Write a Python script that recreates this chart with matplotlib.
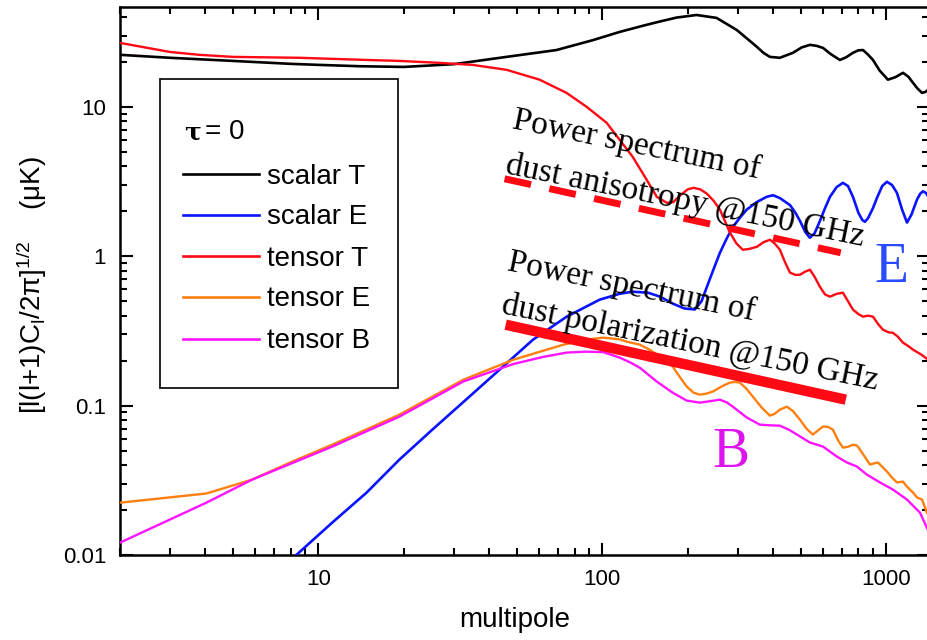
import matplotlib
matplotlib.use('Agg')
import matplotlib.pyplot as plt
from matplotlib.lines import Line2D
from matplotlib.patches import Rectangle
from matplotlib.ticker import LogLocator, FuncFormatter, NullFormatter

plt.rcParams['font.family'] = ['Liberation Sans', 'DejaVu Sans']
plt.rcParams['mathtext.fontset'] = 'custom'
plt.rcParams['mathtext.rm'] = 'Liberation Sans'
plt.rcParams['mathtext.it'] = 'Liberation Sans:italic'
plt.rcParams['mathtext.bf'] = 'Liberation Sans:bold'

# ---------------- data ----------------
ell_scalar_T = [2, 3, 5, 8, 10, 14, 20, 30, 46, 69, 93, 115, 140, 160, 183, 215, 253,
                298, 325, 351, 370, 390, 423, 470, 505, 540, 570, 600, 640, 688, 725,
                765, 800, 830, 860, 900, 950, 1016, 1080, 1148, 1200, 1245, 1290, 1340,
                1380, 1418]
scalar_T = [22.3, 21.3, 20.3, 19.4, 19.1, 18.7, 18.5, 19.3, 21.6, 24.0, 28.0, 31.7, 35.0,
            37.3, 39.6, 41.2, 39.4, 32.7, 28.5, 25.2, 23.0, 21.6, 21.3, 23.0, 25.0, 26.0,
            25.6, 24.8, 22.5, 20.6, 21.5, 23.0, 23.9, 24.0, 22.6, 20.6, 17.5, 15.2, 15.8,
            16.9, 15.9, 14.5, 13.3, 12.4, 12.6, 13.2]

ell_scalar_E = [7, 8.36, 11.2, 14.8, 19.3, 25.2, 33.2, 43.5, 57, 75, 98, 115, 128, 145,
                160, 178, 195, 212, 224, 234, 247, 260, 275, 289, 305, 323, 350, 380, 400,
                423, 459, 480, 498, 520, 539, 560, 585, 610, 635, 670, 705, 735, 765, 800,
                825, 843, 865, 900, 929, 970, 1008, 1050, 1093, 1140, 1186, 1230, 1286,
                1320, 1351, 1385, 1418]
scalar_E = [0.0073, 0.0100, 0.0165, 0.0262, 0.0435, 0.069, 0.110, 0.174, 0.276, 0.394,
            0.512, 0.56, 0.579, 0.57, 0.536, 0.48, 0.447, 0.44, 0.50, 0.625, 0.82, 1.055,
            1.32, 1.57, 1.80, 2.05, 2.30, 2.50, 2.56, 2.45, 2.20, 1.95, 1.72, 1.45, 1.33,
            1.42, 1.72, 2.10, 2.50, 2.90, 3.10, 2.95, 2.50, 1.95, 1.75, 1.70, 1.80, 2.10,
            2.45, 2.95, 3.15, 3.00, 2.66, 2.05, 1.68, 1.90, 2.39, 2.62, 2.72, 2.65, 2.45]

ell_tensor_T = [2, 3, 3.8, 5, 8.6, 14.8, 19.3, 26.7, 34.9, 46, 60.2, 74.9, 88.2, 103.7,
                115.3, 128.1, 143.5, 155.7, 168.8, 178, 188, 200, 210, 222, 234, 247, 260,
                282, 297, 313, 330, 351, 370, 390, 405, 423, 440, 459, 480, 498, 520, 540,
                560, 585, 610, 635, 670, 705, 735, 765, 800, 830, 865, 900, 940, 976,
                1020, 1058, 1100, 1148, 1200, 1245, 1330, 1418]
tensor_T = [26.8, 23.3, 22.3, 21.6, 21.3, 20.6, 20.3, 19.7, 19.1, 17.7, 15.2, 12.4, 10.0,
            7.82, 6.01, 4.63, 3.25, 2.50, 2.28, 2.30, 2.55, 2.80, 2.87, 2.80, 2.62, 2.35,
            2.05, 1.44, 1.22, 1.105, 1.12, 1.157, 1.24, 1.29, 1.22, 1.105, 0.92, 0.776,
            0.75, 0.752, 0.79, 0.812, 0.73, 0.625, 0.555, 0.536, 0.56, 0.570, 0.50, 0.439,
            0.41, 0.394, 0.40, 0.394, 0.35, 0.322, 0.31, 0.307, 0.29, 0.264, 0.25, 0.237,
            0.22, 0.201]

ell_tensor_E = [2, 4.03, 5.85, 8.09, 11.2, 19.3, 32.4, 48.7, 73.1, 90, 101, 115, 122,
                135.6, 148, 159.5, 177.3, 188, 198.7, 210, 220.8, 232, 245.4, 265, 281.7,
                293, 305.5, 322, 339.6, 365, 389.8, 405, 422.8, 447.5, 470, 497.5, 525,
                552.7, 575, 599.5, 625, 650.3, 680, 705.2, 735, 764.9, 790, 809.6, 845,
                878.1, 905, 937.1, 970, 1008, 1050, 1093, 1120, 1148, 1180, 1215, 1250,
                1286, 1318, 1340, 1370, 1395, 1418]
tensor_E = [0.0224, 0.0258, 0.032, 0.0422, 0.0548, 0.087, 0.149, 0.203, 0.256, 0.278,
            0.285, 0.278, 0.268, 0.256, 0.235, 0.213, 0.1824, 0.155, 0.134, 0.122, 0.1185,
            0.12, 0.1242, 0.135, 0.1426, 0.144, 0.1426, 0.13, 0.1148, 0.097, 0.0857, 0.088,
            0.094, 0.0984, 0.092, 0.0806, 0.07, 0.064, 0.068, 0.0724, 0.072, 0.069, 0.058,
            0.0524, 0.053, 0.0548, 0.054, 0.0508, 0.045, 0.0403, 0.041, 0.0416, 0.039,
            0.0362, 0.033, 0.0306, 0.0308, 0.031, 0.029, 0.0274, 0.026, 0.0243, 0.0238,
            0.0235, 0.021, 0.0192, 0.0183]

ell_tensor_B = [2, 4.03, 5.85, 11.2, 19.3, 32.4, 48.7, 62, 75, 88, 101, 115, 126, 135.6,
                155.7, 177.3, 198.7, 220.8, 240, 259.8, 275, 288.6, 323.4, 359.3, 390,
                422.8, 455, 485.6, 539.5, 599.5, 671.7, 728.5, 790.1, 857, 952.4, 1058.5,
                1186, 1318, 1418]
tensor_B = [0.0121, 0.0224, 0.032, 0.0532, 0.0844, 0.145, 0.19, 0.212, 0.2265, 0.2297,
            0.228, 0.21, 0.194, 0.1795, 0.145, 0.122, 0.108, 0.1047, 0.107, 0.1096, 0.105,
            0.0984, 0.0832, 0.0746, 0.0738, 0.0734, 0.069, 0.064, 0.0566, 0.0532, 0.0456,
            0.0416, 0.0391, 0.0345, 0.0306, 0.0274, 0.0235, 0.0192, 0.0142]

dust_aniso_ell = [45.3, 693]
dust_aniso_val = [3.30, 1.055]
dust_pol_ell = [45.7, 722]
dust_pol_val = [0.348, 0.1096]

legend_labels = ['scalar T', 'scalar E', 'tensor T', 'tensor E', 'tensor B']
x_ticks = [10, 100, 1000]
y_ticks = [0.01, 0.1, 1, 10]

# ---------------- figure ----------------
W, H = 928, 640
fig = plt.figure(figsize=(W / 100, H / 100), dpi=100)


def fx(px):
    return px / W


def fy(py):
    return 1 - py / H


ax = fig.add_axes([fx(120), fy(555), fx(929) - fx(120), fy(7) - fy(555)])
ax.set_xscale('log')
ax.set_yscale('log')
ax.set_xlim(2, 1418)
ax.set_ylim(0.01, 46.6)

c_black, c_blue, c_red, c_orange, c_mag = '#000000', '#0a14ff', '#ff0a14', '#ff8010', '#ff14ff'
lw = 1.9
ax.plot(ell_scalar_T, scalar_T, color=c_black, lw=lw, zorder=3)
ax.plot(ell_scalar_E, scalar_E, color=c_blue, lw=lw, zorder=3)
ax.plot(ell_tensor_T, tensor_T, color=c_red, lw=lw * 0.9, zorder=3)
ax.plot(ell_tensor_E, tensor_E, color=c_orange, lw=lw * 0.9, zorder=3)
ax.plot(ell_tensor_B, tensor_B, color=c_mag, lw=lw * 0.9, zorder=3)

ax.plot(dust_aniso_ell, dust_aniso_val, color=c_red, lw=5, dashes=(3.9, 2.7),
        solid_capstyle='butt', dash_capstyle='butt', zorder=4)
ax.plot(dust_pol_ell, dust_pol_val, color=c_red, lw=7.5, solid_capstyle='butt', zorder=4)

# axes styling
for s in ax.spines.values():
    s.set_linewidth(1.8)
ax.xaxis.set_major_locator(LogLocator(base=10, numticks=10))
ax.yaxis.set_major_locator(LogLocator(base=10, numticks=10))
ax.xaxis.set_minor_locator(LogLocator(base=10, subs=range(2, 10), numticks=20))
ax.yaxis.set_minor_locator(LogLocator(base=10, subs=range(2, 10), numticks=20))
fmt = FuncFormatter(lambda v, _: f'{v:g}' if v in x_ticks + y_ticks else '')
ax.xaxis.set_major_formatter(fmt)
ax.yaxis.set_major_formatter(fmt)
ax.xaxis.set_minor_formatter(NullFormatter())
ax.yaxis.set_minor_formatter(NullFormatter())
ax.tick_params(which='both', direction='in', top=True, right=True, width=1.5,
               labelsize=16)
ax.tick_params(which='major', length=9)
ax.tick_params(which='minor', length=5)
ax.tick_params(axis='y', which='major', pad=10)
ax.tick_params(axis='x', which='major', pad=10)

fig.text(fx(515), fy(627), 'multipole', fontsize=20, ha='center', va='baseline')
fig.text(fx(32), fy(285), r'[l(l+1)C$_\mathregular{l}$/2π]$^\mathregular{1/2}$    (μK)',
         fontsize=20, rotation=90, ha='center', va='center')

# legend box drawn by hand
fig.patches.append(Rectangle((fx(160), fy(388)), fx(398) - fx(160), fy(79) - fy(388),
                             transform=fig.transFigure, fill=True, facecolor='white',
                             edgecolor='#111111', lw=1.3, zorder=5))
fig.text(fx(184), fy(139), 'τ', fontsize=18, fontweight='bold',
         family=['DejaVu Serif'], ha='left', va='baseline', zorder=6)
fig.text(fx(205), fy(139), '= 0', fontsize=20, ha='left', va='baseline', zorder=6)
leg_y = [174, 215, 256, 297, 339]
for lab, col, yy in zip(legend_labels, [c_black, c_blue, c_red, c_orange, c_mag], leg_y):
    fig.lines.append(Line2D([fx(183), fx(259)], [fy(yy), fy(yy)], color=col, lw=lw,
                            transform=fig.transFigure, zorder=6))
    fig.text(fx(267), fy(yy + 9.5), lab, fontsize=20, ha='left', va='baseline', zorder=6)

# annotations
serif = ['Liberation Serif', 'DejaVu Serif']
rot = -11.5
ann = [('Power spectrum of', 511, 128), ('dust anisotropy @150 GHz', 504, 173),
       ('Power spectrum of', 506, 270), ('dust polarization @150 GHz', 500, 313)]
for txt, px, py in ann:
    fig.text(fx(px), fy(py), txt, fontsize=24, family=serif, rotation=rot,
             rotation_mode='anchor', ha='left', va='baseline', zorder=7)
fig.text(fx(874), fy(282), 'E', fontsize=40, family=serif, color='#2a4cff',
         ha='left', va='baseline', zorder=7)
fig.text(fx(712), fy(467), 'B', fontsize=40, family=serif, color='#dd14f0',
         ha='left', va='baseline', zorder=7)

fig.savefig('out.png', dpi=100)
